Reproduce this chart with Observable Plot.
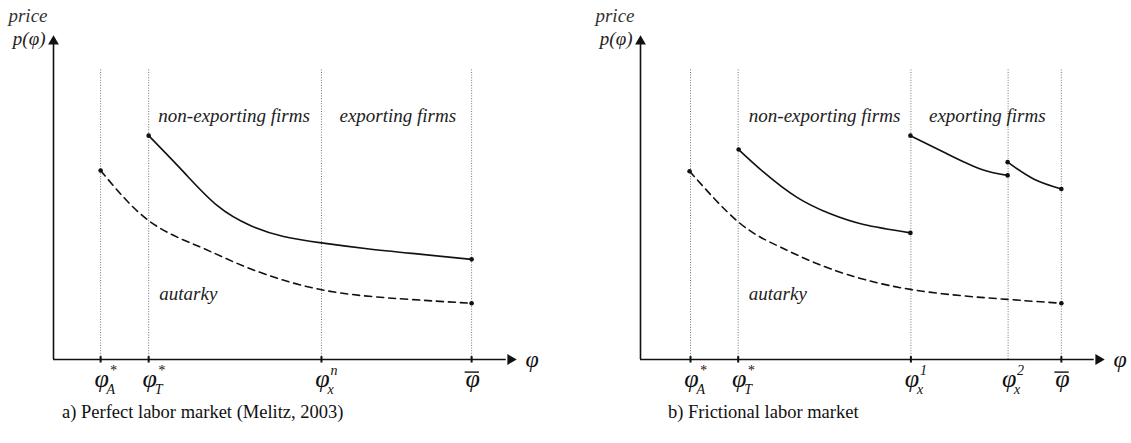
<!DOCTYPE html>
<html><head><meta charset="utf-8">
<script src="https://cdn.jsdelivr.net/npm/d3@7"></script>
<script src="https://cdn.jsdelivr.net/npm/@observablehq/plot@0.6"></script>
<style>
body{margin:0;background:#fff;}
#wrap{position:relative;width:1131px;height:443px;font-family:'Liberation Serif';overflow:hidden;}
.panel{position:absolute;top:0;}
.cap{position:absolute;font-size:18.5px;line-height:20px;color:#111;white-space:nowrap;font-family:'Liberation Serif';}
svg text{font-family:'Liberation Serif';}
</style></head><body>
<div id="wrap"></div>
<script>
// ---------- data (abstract units: axis runs 0..100 on both x and y) ----------
// Panel a) Perfect labor market
const aTicks     = [10.2, 20.6, 58.0, 90.5];
const aTickMain  = ["φ", "φ", "φ", "φ"];
const aTickSup   = ["*", "*", "n", ""];
const aTickSub   = ["A", "T", "x", ""];
const aTickBar   = [false, false, false, true];
const aTickMark  = [true, true, true, true];

const aSolidX  = [20.6, 28.2, 35.4, 42.6, 49.8, 58.0, 67.9, 78.7, 90.5];
const aSolidY  = [69.3, 58.0, 47.7, 41.5, 38.1, 36.1, 34.3, 32.7, 31.0];
const aDashX   = [10.2, 20.6, 31.8, 42.6, 58.0, 75.1, 90.5];
const aDashY   = [58.5, 43.0, 34.8, 28.1, 21.6, 18.8, 17.4];

const aLabels  = ["non-exporting firms", "exporting firms", "autarky"];
const aLabelX  = [22.7, 61.9, 22.9];
const aLabelY  = [75.3, 75.3, 20.4];

// Panel b) Frictional labor market
const bTicks     = [10.8, 21.1, 58.4, 79.4, 90.9];
const bTickMain  = ["φ", "φ", "φ", "φ", "φ"];
const bTickSup   = ["*", "*", "1", "2", ""];
const bTickSub   = ["A", "T", "x", "x", ""];
const bTickBar   = [false, false, false, false, true];
const bTickMark  = [true, true, true, false, true];

const bSeg1X = [21.2, 26.6, 33.8, 41.0, 48.2, 58.3];
const bSeg1Y = [65.0, 58.0, 50.2, 45.1, 41.8, 39.2];
const bSeg2X = [58.3, 66.2, 73.4, 79.3];
const bSeg2Y = [69.3, 63.7, 59.0, 57.0];
const bSeg3X = [79.3, 84.9, 90.9];
const bSeg3Y = [61.1, 55.9, 52.8];
const bDashX = [10.6, 21.2, 30.2, 41.0, 58.3, 79.3, 90.9];
const bDashY = [58.3, 42.5, 34.8, 28.1, 21.7, 18.6, 17.4];

const bLabels = ["non-exporting firms", "exporting firms", "autarky"];
const bLabelX = [23.4, 62.3, 23.4];
const bLabelY = [75.3, 75.3, 20.4];

const captions = ["a) Perfect labor market (Melitz, 2003)", "b) Frictional labor market"];
const yTitle = "price";
const yLabel = "p(φ)";
const xLabel = "φ";

// ---------- helpers ----------
const FONT = "Liberation Serif";
const INK = "#111";
const pts = (xs, ys) => xs.map((x, i) => ({x, y: ys[i]}));
const ends = (xs, ys) => [{x: xs[0], y: ys[0]}, {x: xs[xs.length - 1], y: ys[ys.length - 1]}];
const T = (o) => ({fontFamily: FONT, fontStyle: "italic", fill: INK, ...o});

function panel(cfg) {
  const ticks = cfg.ticks.map((t, i) => ({t, main: cfg.main[i], sup: cfg.sup[i], sub: cfg.sub[i], bar: cfg.bar[i], mark: cfg.mark[i]}));
  const labels = cfg.labels.map((s, i) => ({s, x: cfg.lx[i], y: cfg.ly[i]}));
  const solids = cfg.solids.map(([xs, ys]) => pts(xs, ys));
  const dash = pts(cfg.dash[0], cfg.dash[1]);
  const dots = cfg.solids.flatMap(([xs, ys]) => ends(xs, ys)).concat(ends(cfg.dash[0], cfg.dash[1]));
  return Plot.plot({
    width: cfg.width, height: 400,
    marginLeft: cfg.ml, marginRight: cfg.mr, marginTop: 36, marginBottom: 41,
    x: {domain: [0, 100], axis: null},
    y: {domain: [0, 100], axis: null},
    style: {fontFamily: FONT, background: "transparent", overflow: "visible"},
    marks: [
      // dotted guides
      Plot.ruleX(ticks, {x: "t", y1: 0, y2: 90.1, stroke: "#777", strokeWidth: 1, strokeDasharray: "1,1.6"}),
      // axes
      Plot.ruleY([0], {x1: 0, x2: 98, stroke: INK, strokeWidth: 1.6}),
      Plot.ruleX([0], {y1: 0, y2: 98, stroke: INK, strokeWidth: 1.6}),
      Plot.dot([{x: 100, y: 0}], {x: "x", y: "y", symbol: "triangle", r: 4, fill: INK, stroke: "none", rotate: 90, dx: -5}),
      Plot.dot([{x: 0, y: 100}], {x: "x", y: "y", symbol: "triangle", r: 4, fill: INK, stroke: "none", dy: 5}),
      // tick marks
      Plot.ruleX(ticks.filter(d => d.mark), {x: "t", y1: -1.1, y2: 0.9, stroke: INK, strokeWidth: 2}),
      // tick labels
      Plot.text(ticks, T({x: "t", y: 0, text: "main", dy: 19, dx: 1, fontSize: 26})),
      Plot.text(ticks, T({x: "t", y: 0, text: "sup", dy: 11, dx: 9, textAnchor: "start", fontSize: 14})),
      Plot.text(ticks, T({x: "t", y: 0, text: "sub", dy: 30, dx: 6, textAnchor: "start", fontSize: 14})),
      Plot.ruleY(ticks.filter(d => d.bar), {x1: d => d.t - 1.4, x2: d => d.t + 1.7, y: -3.9, stroke: INK, strokeWidth: 1.4}),
      // curves
      ...solids.map(s => Plot.line(s, {x: "x", y: "y", curve: "natural", stroke: INK, strokeWidth: 1.6})),
      Plot.line(dash, {x: "x", y: "y", curve: "natural", stroke: INK, strokeWidth: 1.6, strokeDasharray: "7,5"}),
      Plot.dot(dots, {x: "x", y: "y", r: 2.3, fill: INK, stroke: "none"}),
      // annotations
      Plot.text(labels, T({x: "x", y: "y", text: "s", textAnchor: "start", fontSize: 19, fill: "#222"})),
      // axis titles
      Plot.text([yTitle], T({x: 0, y: 100, text: d => d, textAnchor: "end", dx: -6, dy: -21, fontSize: 19, fill: "#333"})),
      Plot.text([yLabel], T({x: 0, y: 100, text: d => d, textAnchor: "end", dx: -8, dy: 2, fontSize: 19, fill: "#222"})),
      Plot.text([xLabel], T({x: 100, y: 0, text: d => d, textAnchor: "start", dx: 10, dy: 0, fontSize: 24}))
    ]
  });
}

const wrap = document.getElementById("wrap");
const pa = panel({width: 565, ml: 53, mr: 50, ticks: aTicks, main: aTickMain, sup: aTickSup, sub: aTickSub, bar: aTickBar, mark: aTickMark,
  solids: [[aSolidX, aSolidY]], dash: [aDashX, aDashY], labels: aLabels, lx: aLabelX, ly: aLabelY});
const pb = panel({width: 546, ml: 55, mr: 28, ticks: bTicks, main: bTickMain, sup: bTickSup, sub: bTickSub, bar: bTickBar, mark: bTickMark,
  solids: [[bSeg1X, bSeg1Y], [bSeg2X, bSeg2Y], [bSeg3X, bSeg3Y]], dash: [bDashX, bDashY], labels: bLabels, lx: bLabelX, ly: bLabelY});
pa.classList.add("panel"); pa.style.left = "0px";
pb.classList.add("panel"); pb.style.left = "585px";
wrap.appendChild(pa); wrap.appendChild(pb);
[[captions[0], 62], [captions[1], 668]].forEach(([t, x]) => {
  const d = document.createElement("div");
  d.className = "cap"; d.textContent = t; d.style.left = x + "px"; d.style.top = "402px";
  wrap.appendChild(d);
});
</script>
</body></html>
